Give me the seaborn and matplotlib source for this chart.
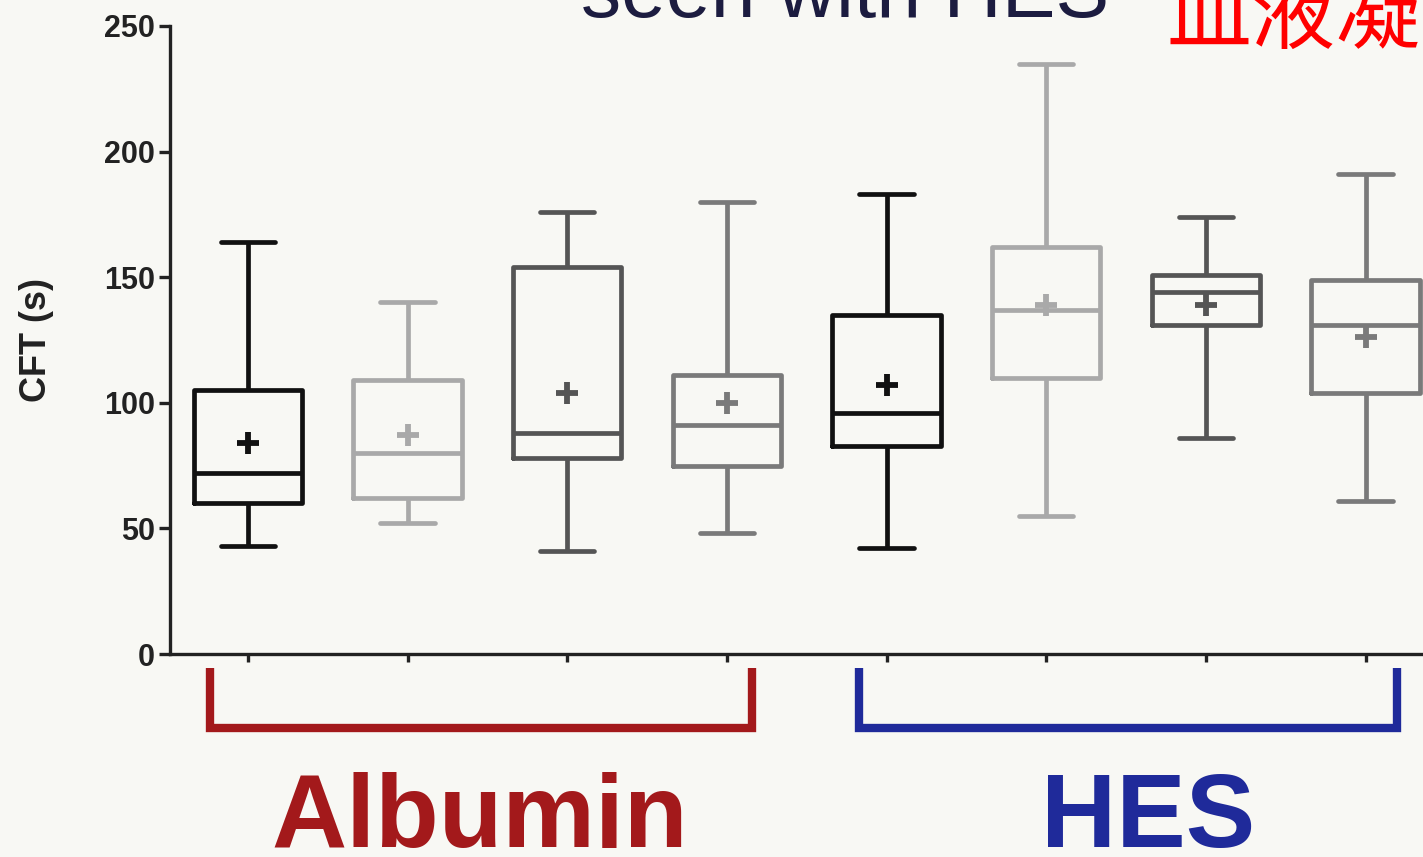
import numpy as np
import pandas as pd
import matplotlib
matplotlib.use("Agg")
import matplotlib.pyplot as plt
import matplotlib.transforms as mtransforms
import seaborn as sns

# ---- data ----
groups = ["Albumin 1", "Albumin 2", "Albumin 3", "Albumin 4",
          "HES 1", "HES 2", "HES 3", "HES 4"]
whisker_low = [43, 52, 41, 48, 42, 55, 86, 61]
q1 = [60, 62, 78, 75, 83, 110, 131, 104]
median = [72, 80, 88, 91, 96, 137, 144, 131]
q3 = [105, 109, 154, 111, 135, 162, 151, 149]
whisker_high = [164, 140, 176, 180, 183, 235, 174, 191]
means = [84, 87, 104, 100, 107, 139, 139, 126]
box_colors = ["#111111", "#a9a9a9", "#555555", "#7a7a7a",
              "#111111", "#a9a9a9", "#555555", "#7a7a7a"]
yticks = [0, 50, 100, 150, 200, 250]
group_labels = ["Albumin", "HES"]
group_spans = [(0, 3), (4, 7)]
group_colors = ["#a3191b", "#1f2a9a"]

# long-format table: five points per group reproduce the box statistics
rows = []
for g, a, b, c, d, e in zip(groups, whisker_low, q1, median, q3, whisker_high):
    for v in (a, b, c, d, e):
        rows.append({"group": g, "value": v})
df = pd.DataFrame(rows)

bg = "#f8f8f4"
sns.set_theme(style="white")
plt.rcParams["font.family"] = ["Liberation Sans", "DejaVu Sans"]

fig = plt.figure(figsize=(14.23, 8.57), dpi=100, facecolor=bg)
ax = fig.add_axes([170 / 1423, 1 - 654 / 857, 1 - 170 / 1423, (654 - 26) / 857])
ax.set_facecolor(bg)

sns.boxplot(data=df, x="group", y="value", hue="group", order=groups,
            hue_order=groups, palette=box_colors, fill=False, whis=(0, 100),
            width=0.68, linewidth=3.4, legend=False, ax=ax)

for i, (m, c) in enumerate(zip(means, box_colors)):
    ax.plot([i], [m], marker="+", markersize=16, markeredgewidth=4.2, color=c,
            linestyle="none")

ax.set_xlim(-0.4875, 7.36)
ax.set_ylim(0, 250)
ax.set_yticks(yticks)
ax.set_yticklabels([str(t) for t in yticks], fontsize=22, fontweight="bold",
                   color="#222222")
ax.set_xticks(range(len(groups)))
ax.set_xticklabels([""] * len(groups))
ax.set_xlabel("")
ax.set_ylabel("CFT (s)", fontsize=26, fontweight="bold", color="#222222",
              labelpad=36)
ax.tick_params(axis="y", length=8, width=2.4, color="#222222", pad=3, left=True)
ax.tick_params(axis="x", length=6, width=2.4, color="#222222", bottom=True)
for s in ["top", "right"]:
    ax.spines[s].set_visible(False)
for s in ["left", "bottom"]:
    ax.spines[s].set_linewidth(2.4)
    ax.spines[s].set_color("#222222")

# group brackets and labels below the axis
trans = mtransforms.blended_transform_factory(ax.transData, ax.transAxes)
bracket_pad = [(-0.24, 0.16), (-0.175, 0.2)]
label_shift = [-0.05, 0.14]
for (lo, hi), lab, col, (pl, pr), sh in zip(group_spans, group_labels,
                                            group_colors, bracket_pad,
                                            label_shift):
    x0, x1 = lo + pl, hi + pr
    ax.plot([x0, x0, x1, x1], [-0.022, -0.118, -0.118, -0.022], color=col,
            linewidth=6, transform=trans, clip_on=False,
            solid_joinstyle="miter", solid_capstyle="butt")
    ax.text((lo + hi) / 2 + sh, -0.307, lab,
            transform=trans, ha="center", va="baseline", fontsize=75,
            fontweight="bold", color=col)

# cut-off title and overlay text at the top
fig.text(845 / 1423, 1 - 17 / 857, "seen with HES", ha="center", va="baseline",
         fontsize=58, color="#1c1c40", family=["Liberation Sans", "DejaVu Sans"])
fig.text(1166 / 1423, 1 - 42 / 857, "血液凝", ha="left", va="baseline",
         fontsize=61, color="#ff0000",
         family=["Noto Sans CJK SC", "DejaVu Sans"])

fig.savefig("out.png", dpi=100, facecolor=bg)
